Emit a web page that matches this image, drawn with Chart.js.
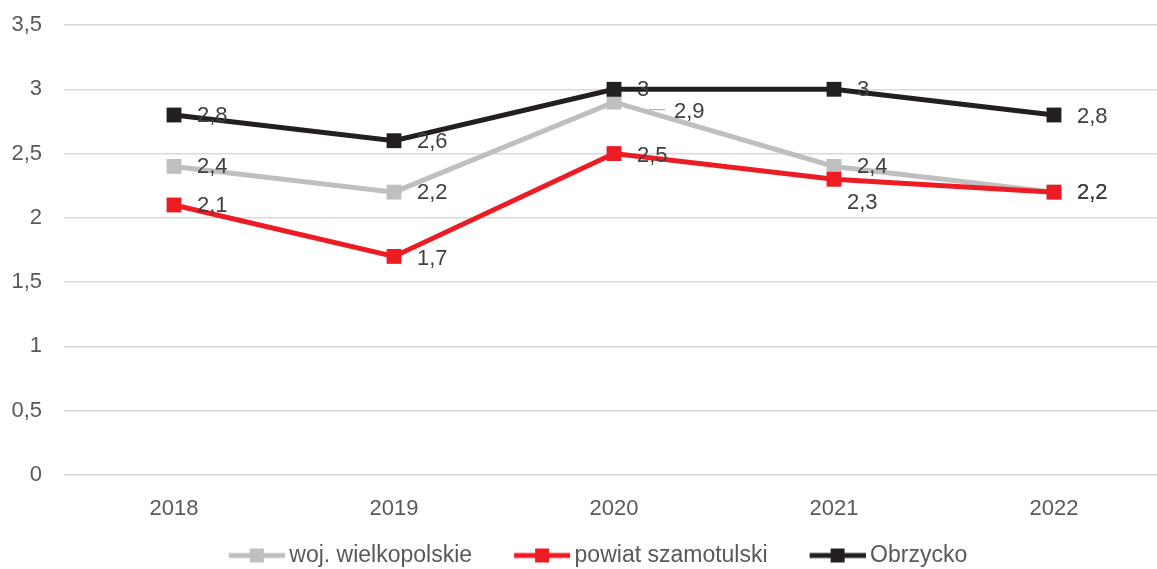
<!DOCTYPE html>
<html><head><meta charset="utf-8">
<script src="https://cdn.jsdelivr.net/npm/chart.js@4.4.1/dist/chart.umd.min.js"></script>
<style>html,body{margin:0;padding:0;overflow:hidden;background:#fff}#wrap{width:1164px;height:569px}</style>
</head><body>
<div id="wrap"><canvas id="c" width="1164" height="569" style="width:1164px;height:569px;display:block"></canvas></div>
<script>
const years = ['2018', '2019', '2020', '2021', '2022'];
const seriesNames = ['woj. wielkopolskie', 'powiat szamotulski', 'Obrzycko'];
const wojWielkopolskie = [2.4, 2.2, 2.9, 2.4, 2.2];
const powiatSzamotulski = [2.1, 1.7, 2.5, 2.3, 2.2];
const obrzycko = [2.8, 2.6, 3.0, 3.0, 2.8];
const yTicks = [0, 0.5, 1, 1.5, 2, 2.5, 3, 3.5];

const colors = ['#BFBFBF', '#ED1C24', '#231F20'];
const FONT = '"Liberation Sans", Arial, sans-serif';
const FS = 22;
const fmt = v => String(v).replace('.', ',');

// label placement (style only): [dx, dy] relative to point
const labelOffsets = [
  [[23, 1], [23, 1], [60, 10], [23, 1], [23, 1]],
  [[23, 1], [23, 3], [23, 2], [13, 24], [23, 1]],
  [[23, 1], [23, 1], [23, 1], [23, 1], [23, 2]]
];

function legendImage(color) {
  const c = document.createElement('canvas');
  c.width = 95; c.height = 16;
  const g = c.getContext('2d');
  g.strokeStyle = color; g.lineWidth = 5;
  g.beginPath(); g.moveTo(39, 8); g.lineTo(95, 8); g.stroke();
  g.fillStyle = color; g.fillRect(60, 1, 14, 14);
  return c;
}
const legendImgs = colors.map(legendImage);

const dataLabels = {
  id: 'dataLabels',
  afterDatasetsDraw(chart) {
    const ctx = chart.ctx;
    ctx.save();
    ctx.font = FS + 'px ' + FONT;
    ctx.fillStyle = '#404040';
    ctx.textAlign = 'left';
    ctx.textBaseline = 'middle';
    [0, 1, 2].forEach(di => {
      const meta = chart.getDatasetMeta(di);
      const ds = chart.data.datasets[di];
      meta.data.forEach((pt, i) => {
        const [dx, dy] = labelOffsets[di][i];
        if (di === 0 && i === 2) {
          ctx.strokeStyle = '#A6A6A6'; ctx.lineWidth = 1;
          ctx.beginPath(); ctx.moveTo(pt.x + 35, pt.y + 7.5); ctx.lineTo(pt.x + 51, pt.y + 7.5); ctx.stroke();
        }
        ctx.fillText(fmt(ds.data[i]), pt.x + dx, pt.y + dy);
      });
    });
    ctx.restore();
  }
};

const series = [wojWielkopolskie, powiatSzamotulski, obrzycko];
new Chart(document.getElementById('c'), {
  type: 'line',
  data: {
    labels: years,
    datasets: series.map((d, i) => ({
      label: seriesNames[i],
      data: d,
      borderColor: colors[i],
      backgroundColor: colors[i],
      borderWidth: 5,
      pointStyle: 'rect',
      pointRadius: 10.5,
      pointHoverRadius: 10.5,
      pointBorderWidth: 0,
      tension: 0,
      clip: false,
      order: 3 - i
    }))
  },
  options: {
    responsive: false,
    animation: false,
    events: [],
    layout: { autoPadding: false, padding: { top: 25, right: 0, left: 0, bottom: -8 } },
    plugins: {
      tooltip: { enabled: false },
      legend: {
        position: 'bottom',
        labels: {
          usePointStyle: true,
          pointStyleWidth: 81,
          padding: 10,
          color: '#595959',
          font: { size: 23, family: FONT },
          sort: (a, b) => a.datasetIndex - b.datasetIndex,
          generateLabels(chart) {
            const items = Chart.defaults.plugins.legend.labels.generateLabels(chart);
            items.forEach(it => { it.pointStyle = legendImgs[it.datasetIndex]; });
            return items;
          }
        }
      }
    },
    scales: {
      x: {
        offset: true,
        afterFit: s => { s.paddingLeft = 0; s.paddingRight = 0; s.height = 59; },
        grid: { display: false, drawTicks: false },
        border: { display: false },
        ticks: { color: '#595959', font: { size: FS, family: FONT }, padding: 21 }
      },
      y: {
        min: 0, max: 3.5,
        afterBuildTicks: s => { s.ticks = yTicks.map(v => ({ value: v })); },
        afterFit: s => { s.width = 64; s.paddingTop = 0; s.paddingBottom = 0; },
        grid: { color: '#D9D9D9', lineWidth: 1.5, drawTicks: false },
        border: { display: false },
        ticks: { color: '#595959', font: { size: FS, family: FONT }, padding: 22, callback: v => fmt(v) }
      }
    }
  },
  plugins: [dataLabels]
});
</script>
</body></html>
